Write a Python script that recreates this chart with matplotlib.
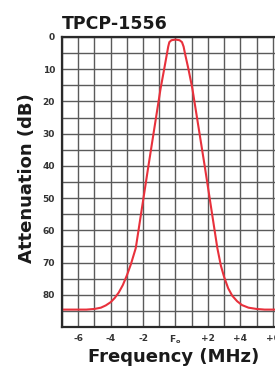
import matplotlib
matplotlib.use("Agg")
import matplotlib.pyplot as plt
import numpy as np

# Data (MHz offset from Fo, attenuation dB)
freq = [-7.0, -5.5, -5.0, -4.6, -4.3, -4.0, -3.75, -3.5, -3.25, -3.0, -2.75, -2.45,
        -1.7, -0.92, -0.7, -0.52, -0.45, -0.38, -0.25, 0.0, 0.25, 0.4, 0.5, 0.58,
        0.8, 1.04, 1.8, 2.58, 2.8, 3.0, 3.25, 3.5, 3.8, 4.1, 4.5, 5.0, 5.5, 7.0]
atten = [84.6, 84.6, 84.4, 84.0, 83.3, 82.3, 81.0, 79.3, 77.0, 74.0, 70.5, 65.5,
         41.0, 16.0, 10.0, 5.0, 3.0, 1.6, 1.0, 0.8, 1.0, 1.6, 3.0, 5.0,
         10.0, 16.0, 40.0, 65.5, 71.0, 74.5, 78.0, 80.3, 82.0, 83.2, 84.0, 84.4, 84.6, 84.6]
xtick_vals = [-6, -4, -2, 0, 2, 4, 6]
xtick_labels = ["-6", "-4", "-2", r"F$_\mathbf{o}$", "+2", "+4", "+6"]
ytick_vals = [0, 10, 20, 30, 40, 50, 60, 70, 80]
title = "TPCP-1556"

W, H = 275, 368
fig = plt.figure(figsize=(W / 100, H / 100), dpi=100)
left, right, top, bottom = 62, 289, 37, 327
ax = fig.add_axes([left / W, 1 - bottom / H, (right - left) / W, (bottom - top) / H])

ax.set_xlim(-7, 7)
ax.set_ylim(90, 0)
ax.set_xticks(xtick_vals)
ax.set_xticklabels(xtick_labels)
ax.set_yticks(ytick_vals)
ax.set_xticks(np.arange(-7, 8, 1), minor=True)
ax.set_yticks(np.arange(0, 91, 5), minor=True)
ax.grid(True, which="both", color="#5a5a5a", lw=1.0)
ax.set_axisbelow(True)
ax.tick_params(which="both", length=0)
ax.tick_params(axis="x", pad=5, labelsize=6.5, labelcolor="#333333")
ax.tick_params(axis="y", pad=5, labelsize=6.5, labelcolor="#333333")
for lab in ax.get_xticklabels() + ax.get_yticklabels():
    lab.set_fontweight("bold")
for s in ax.spines.values():
    s.set_color("#2a2a2a")
    s.set_linewidth(1.6)

ax.plot(freq, atten, color="#e8313c", lw=1.5, solid_joinstyle="round",
        solid_capstyle="round")

fig.text(62 / W, 1 - 29 / H, title, fontsize=12.5, fontweight="bold", color="#1a1a1a",
         ha="left", va="baseline")
fig.text(27 / W, 1 - 178 / H, "Attenuation (dB)", fontsize=13, fontweight="bold",
         color="#1a1a1a", rotation=90, ha="center", va="center")
fig.text(174 / W, 1 - 357 / H, "Frequency (MHz)", fontsize=13, fontweight="bold",
         color="#1a1a1a", ha="center", va="center")

fig.savefig("out.png", dpi=100)
